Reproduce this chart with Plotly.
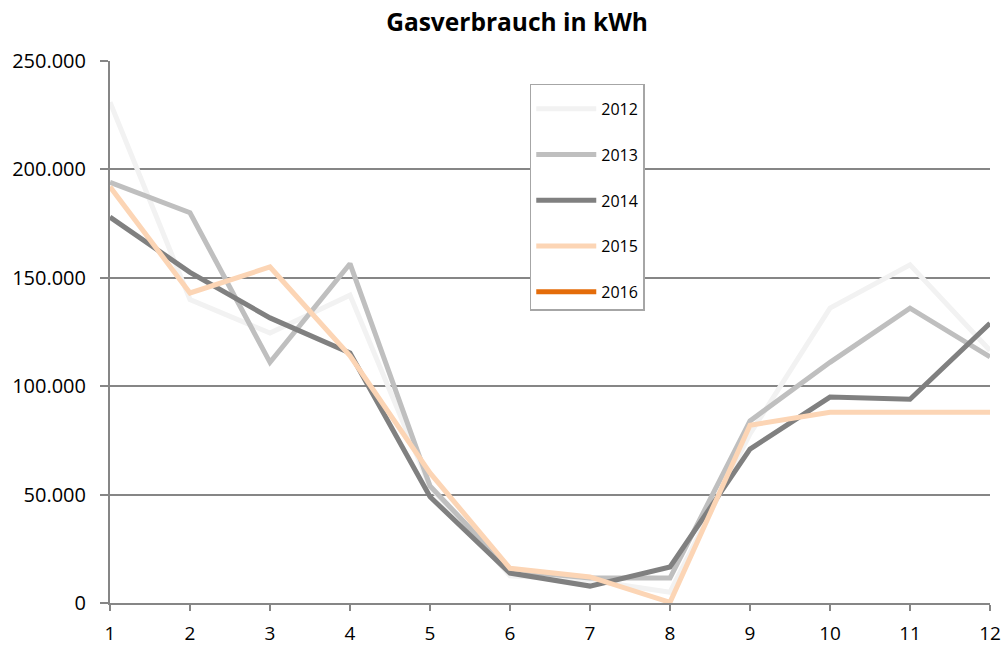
import plotly.graph_objects as go

months = [1, 2, 3, 4, 5, 6, 7, 8, 9, 10, 11, 12]
v2012 = [231000, 140000, 124500, 142000, 53500, 12500, 10500, 5000, 78000, 136000, 156000, 116500]
v2013 = [194000, 180000, 111000, 156500, 54000, 15000, 11500, 11500, 84000, 111000, 136000, 113500]
v2014 = [178000, 152500, 131500, 115300, 49000, 13800, 7800, 16600, 71000, 95000, 94000, 129000]
v2015 = [192000, 143000, 155000, 114000, 60000, 16000, 12000, 300, 82000, 88000, 88000, 88000]
v2016 = [None] * 12

series = [
    ("2012", v2012, "#F2F2F2"),
    ("2013", v2013, "#BFBFBF"),
    ("2014", v2014, "#808080"),
    ("2015", v2015, "#FCD5B5"),
    ("2016", v2016, "#E46C0A"),
]

fig = go.Figure()
for name, vals, col in series:
    fig.add_trace(go.Scatter(
        x=months, y=vals, name=name, mode="lines",
        line=dict(color=col, width=5), legendgroup=name, connectgaps=False,
    ))

FONT = "Open Sans, sans-serif"
fig.update_layout(
    width=1004, height=646,
    margin=dict(l=110, r=14, t=61, b=43),
    paper_bgcolor="white", plot_bgcolor="white",
    separators=",.",
    font=dict(family=FONT, color="black"),
    title=dict(text="<b>Gasverbrauch in kWh</b>", x=0.515, xanchor="center",
               y=0.965, yanchor="middle", font=dict(size=24.5, family=FONT)),
    showlegend=True,
    legend=dict(x=0.477, y=0.958, xanchor="left", yanchor="top",
                bordercolor="#A6A6A6", borderwidth=1.5, bgcolor="white",
                font=dict(size=16, family=FONT), traceorder="grouped",
                tracegroupgap=22, itemwidth=60,
                title=dict(text="&nbsp;", font=dict(size=5))),
    xaxis=dict(range=[1, 12], tickmode="array", tickvals=months,
               showgrid=False, showline=True, linecolor="#868686", linewidth=2,
               ticks="outside", ticklen=6, tickcolor="#868686", tickwidth=2,
               ticklabelstandoff=6, automargin=False,
               tickfont=dict(size=19, family=FONT), zeroline=False),
    yaxis=dict(range=[0, 250000], tickvals=[0, 50000, 100000, 150000, 200000, 250000],
               tickformat=",d", showgrid=True, gridcolor="#868686", gridwidth=2,
               showline=True, linecolor="#868686", linewidth=2,
               ticks="outside", ticklen=8, tickcolor="#868686", tickwidth=2,
               ticklabelstandoff=10, automargin=False,
               tickfont=dict(size=20, family=FONT), zeroline=False),
)

fig.write_html("out.html", config={"displayModeBar": False},
               post_script="document.body.style.margin='0';")
